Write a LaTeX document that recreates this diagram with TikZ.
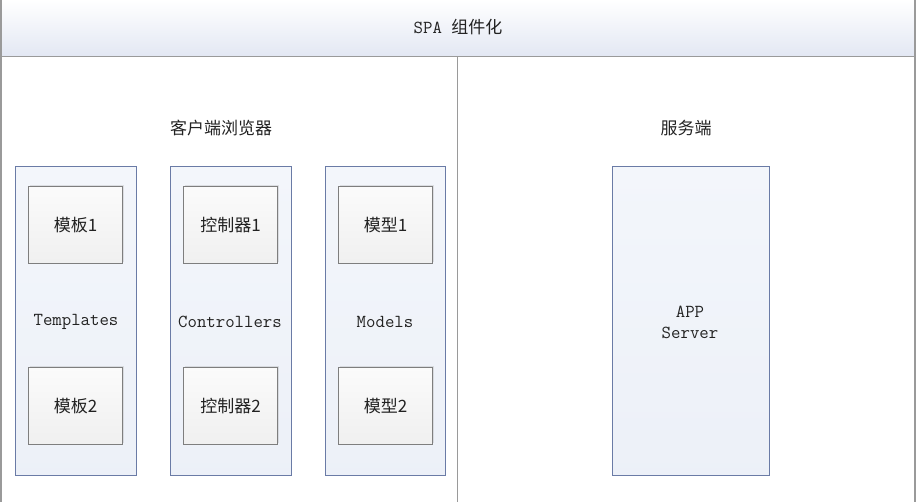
\documentclass[tikz,border=0pt]{standalone}
\usepackage{fontspec}
\newfontfamily\cjk{Noto Sans CJK SC}
\usetikzlibrary{shadows}
\definecolor{framegray}{HTML}{9A9A9A}
\definecolor{contborder}{HTML}{6A7BA6}
\definecolor{contfill}{HTML}{EEF2F9}
\definecolor{boxborder}{HTML}{7E7E7E}
\definecolor{titlebot}{HTML}{E2E7F3}
\definecolor{textcol}{HTML}{222222}
\tikzset{
  container/.style={draw=contborder, line width=1.2pt, top color=white!30!contfill, bottom color=contfill!85!titlebot},
  innerbox/.style={draw=boxborder, line width=1.1pt, top color=white!60!gray!8, bottom color=gray!12,
    drop shadow={shadow xshift=1.5pt, shadow yshift=1.5pt, opacity=0.2}},
  lbl/.style={text=textcol, font=\fontsize{18.3}{21}\selectfont\ttfamily, align=center},
  clbl/.style={text=textcol, font=\fontsize{17}{21}\selectfont\cjk, align=center},
}
\begin{document}
\begin{tikzpicture}[x=1pt,y=-1pt]
\useasboundingbox (0,0) rectangle (917,502);
% title bar
\shade[top color=white, bottom color=titlebot] (1,0) rectangle (915,57);
\draw[framegray, line width=1pt] (1,57) -- (915,57);
\draw[framegray, line width=1.2pt] (1,0) -- (1,502);
\draw[framegray, line width=1.2pt] (915,0) -- (915,502);
\draw[framegray, line width=1pt] (457,57) -- (457,502);
\node[lbl] (title) at (458,27) {SPA {\cjk\fontsize{17}{21}\selectfont 组件化}};
% headings
\node[clbl] (client) at (221,128) {客户端浏览器};
\node[clbl] (server) at (686,128) {服务端};
% containers
\node[container, minimum width=121pt, minimum height=309pt, anchor=north west] (ct) at (15,166) {};
\node[container, minimum width=121pt, minimum height=309pt, anchor=north west] (cc) at (170,166) {};
\node[container, minimum width=120pt, minimum height=309pt, anchor=north west] (cm) at (325,166) {};
\node[container, minimum width=157pt, minimum height=309pt, anchor=north west] (ca) at (612,166) {};
% inner boxes
\node[innerbox, minimum width=94pt, minimum height=77pt, anchor=north west] (t1) at (28,186) {};
\node[clbl] at (t1) {模板1};
\node[innerbox, minimum width=94pt, minimum height=77pt, anchor=north west] (t2) at (28,367) {};
\node[clbl] at (t2) {模板2};
\node[innerbox, minimum width=94pt, minimum height=77pt, anchor=north west] (c1) at (183,186) {};
\node[clbl] at (c1) {控制器1};
\node[innerbox, minimum width=94pt, minimum height=77pt, anchor=north west] (c2) at (183,367) {};
\node[clbl] at (c2) {控制器2};
\node[innerbox, minimum width=94pt, minimum height=77pt, anchor=north west] (m1) at (338,186) {};
\node[clbl] at (m1) {模型1};
\node[innerbox, minimum width=94pt, minimum height=77pt, anchor=north west] (m2) at (338,367) {};
\node[clbl] at (m2) {模型2};
% container labels
\node[lbl] (tl) at (76,322) {Templates};
\node[lbl] (cl) at (230,322) {Controllers};
\node[lbl] (ml) at (385,322) {Models};
\node[lbl] (al) at (690,322) {APP\\Server};
\end{tikzpicture}
\end{document}
